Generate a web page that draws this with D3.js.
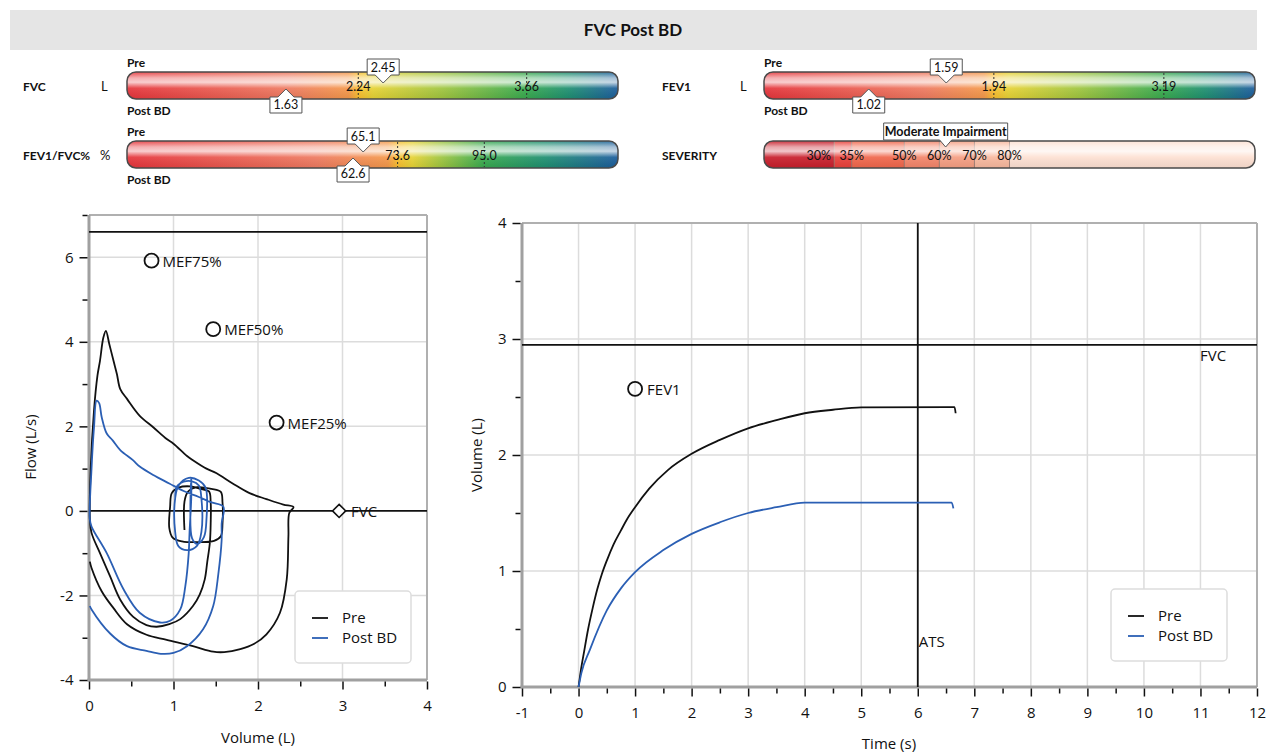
<!DOCTYPE html>
<html>
<head>
<meta charset="utf-8">
<script src="https://cdn.jsdelivr.net/npm/d3@7/dist/d3.min.js"></script>
<style>
body { margin: 0; background: #fff; }
svg text { font-family: "Open Sans", sans-serif; fill: #111; }
.hdr text { font-family: Lato, "DejaVu Sans Condensed", sans-serif; }
</style>
</head>
<body>
<svg id="chart" width="1266" height="752"></svg>
<script>
// --- header gauges ---
var gaugeNames = ["FVC", "FEV1", "FEV1/FVC%"];
var gaugeUnits = ["L", "L", "%"];
var gaugeDomains = [[0.29, 4.43], [0.25, 3.86], [6.8, 128]];
var gaugeLLN = [2.24, 1.94, 73.6];
var gaugeULN = [3.66, 3.19, 95.0];
var gaugePre = [2.45, 1.59, 65.1];
var gaugePost = [1.63, 1.02, 62.6];
var gaugeLabels = [["2.24", "3.66"], ["1.94", "3.19"], ["73.6", "95.0"]];

var severityDomain = [10, 150];
var severityLimits = [30, 35, 50, 60, 70, 80];
var severityColors = ["#c81f2c", "#e9403a", "#f0674c", "#f3856a", "#f59e82", "#f8b89e", "#fde0d2"];
var severityValue = 61.8;
var severityText = "Moderate Impairment";

// --- flow volume ---
var fvXTicks = [0, 1, 2, 3, 4];
var fvXMinor = [0.5, 1.5, 2.5, 3.5];
var fvYTicks = [-4, -2, 0, 2, 4, 6];
var fvYMinor = [-3, -1, 1, 3, 5, 7];
var fvPefLine = 6.6;
var fvMarkers = [
  { name: "MEF75%", vol: 0.74, flow: 5.92 },
  { name: "MEF50%", vol: 1.47, flow: 4.3 },
  { name: "MEF25%", vol: 2.22, flow: 2.09 }
];
var fvFvc = { name: "FVC", vol: 2.96, flow: 0 };

var preFlowVol = [
  [1.13,-0.45],[1.13,0.22],[1.17,0.45],[1.28,0.56],[1.45,0.52],[1.56,0.45],[1.58,0.2],[1.58,-0.3],[1.56,-0.6],
  [1.48,-0.71],[1.3,-0.74],[1.1,-0.72],[0.99,-0.63],[0.95,-0.4],[0.96,0.1],[0.98,0.42],[1.06,0.55],[1.2,0.58],
  [1.32,0.52],[1.42,0.46],[1.44,0.2],[1.44,-0.3],[1.43,-0.76],[1.4,-1.2],[1.37,-1.62],[1.31,-1.98],[1.23,-2.25],
  [1.08,-2.56],[0.95,-2.68],[0.8,-2.74],[0.68,-2.7],[0.52,-2.5],[0.37,-2.1],[0.25,-1.55],[0.13,-1.0],[0.03,-0.52],
  [0.01,-0.2],[0.02,1.0],[0.06,2.4],[0.1,3.2],[0.13,3.55],[0.17,4.1],[0.2,4.26],[0.24,3.95],[0.29,3.55],[0.33,3.24],
  [0.37,2.88],[0.45,2.65],[0.6,2.25],[0.76,1.98],[0.92,1.7],[1.0,1.59],[1.16,1.3],[1.23,1.2],[1.39,1.0],[1.51,0.89],
  [1.7,0.65],[1.9,0.42],[2.1,0.28],[2.3,0.15],[2.42,0.09],[2.37,-0.05],[2.36,-0.6],[2.34,-1.62],[2.26,-2.41],
  [2.1,-2.92],[1.95,-3.15],[1.79,-3.27],[1.6,-3.34],[1.47,-3.33],[1.23,-3.2],[0.92,-3.05],[0.68,-2.93],[0.45,-2.68],
  [0.29,-2.3],[0.15,-1.9],[0.03,-1.35],[0.01,-1.2]
];
var postFlowVol = [
  [1.02,0.3],[1.04,0.58],[1.12,0.69],[1.22,0.7],[1.3,0.6],[1.33,0.3],[1.33,-0.5],[1.28,-0.82],[1.16,-0.93],
  [1.06,-0.84],[1.02,-0.5],[1.02,0.3],[1.06,0.6],[1.18,0.78],[1.3,0.72],[1.38,0.55],[1.39,-0.2],[1.36,-0.62],
  [1.28,-0.78],[1.22,-0.65],[1.2,0.1],[1.21,0.77],[1.21,0.3],[1.19,-0.5],[1.18,-1.0],[1.14,-1.78],[1.08,-2.33],
  [0.96,-2.6],[0.84,-2.64],[0.6,-2.41],[0.41,-1.86],[0.21,-1.0],[0.03,-0.37],[0.01,-0.2],[0.03,1.0],[0.06,2.0],
  [0.09,2.61],[0.12,2.55],[0.15,2.22],[0.21,1.83],[0.28,1.67],[0.37,1.44],[0.52,1.2],[0.6,1.05],[0.76,0.85],
  [0.95,0.65],[1.12,0.47],[1.3,0.33],[1.45,0.2],[1.59,0.1],[1.57,-0.3],[1.57,-0.68],[1.53,-1.5],[1.47,-2.25],
  [1.35,-2.8],[1.16,-3.2],[1.0,-3.36],[0.85,-3.38],[0.68,-3.31],[0.45,-3.2],[0.25,-2.9],[0.03,-2.33],[0.01,-2.25]
];

// --- volume time ---
var vtXTicks = [-1, 0, 1, 2, 3, 4, 5, 6, 7, 8, 9, 10, 11, 12];
var vtXMinor = [-0.5, 0.5, 1.5, 2.5, 3.5, 4.5, 5.5, 6.5, 7.5, 8.5, 9.5, 10.5, 11.5];
var vtYTicks = [0, 1, 2, 3, 4];
var vtYMinor = [0.5, 1.5, 2.5, 3.5];
var vtFvcLine = 2.95;
var vtAtsLine = 6;
var vtFev1 = { name: "FEV1", time: 1.0, vol: 2.57 };

var preVolTime = [
  [0,0],[0.04,0.14],[0.1,0.31],[0.17,0.5],[0.25,0.68],[0.33,0.84],[0.41,0.97],[0.5,1.09],[0.62,1.23],[0.75,1.35],
  [0.85,1.44],[1.0,1.55],[1.25,1.71],[1.58,1.87],[2,2.01],[2.5,2.13],[3,2.23],[3.5,2.3],[4,2.36],[4.5,2.39],[5,2.41],
  [6.65,2.413],[6.67,2.36]
];
var postVolTime = [
  [0,0],[0.05,0.12],[0.2,0.32],[0.5,0.66],[0.75,0.85],[1,0.99],[1.5,1.18],[2,1.32],[2.5,1.42],[3,1.5],
  [3.5,1.55],[4,1.59],[6.6,1.59],[6.63,1.54]
];

var seriesNames = ["Pre", "Post BD"];
var seriesColors = ["#111111", "#2b5fb4"];

var svg = d3.select("#chart");
var defs = svg.append("defs");

// ---------- header ----------
function drawHeader() {
    var hdr = svg.append("g").attr("class", "hdr");
    hdr.append("rect").attr("x", 10).attr("y", 10).attr("width", 1247).attr("height", 40).attr("fill", "#e5e5e5");
    hdr.append("text").attr("x", 633).attr("y", 36).attr("text-anchor", "middle")
        .style("font-size", "17px").style("font-weight", "bold").text("FVC Post BD");

    // gloss gradient used on all bars
    var gloss = defs.append("linearGradient").attr("id", "gloss").attr("x1", 0).attr("y1", 0).attr("x2", 0).attr("y2", 1);
    gloss.append("stop").attr("offset", "0%").attr("stop-color", "#fff").attr("stop-opacity", 0.1);
    gloss.append("stop").attr("offset", "22%").attr("stop-color", "#fff").attr("stop-opacity", 0.6);
    gloss.append("stop").attr("offset", "38%").attr("stop-color", "#fff").attr("stop-opacity", 0.75);
    gloss.append("stop").attr("offset", "60%").attr("stop-color", "#fff").attr("stop-opacity", 0.08);
    gloss.append("stop").attr("offset", "100%").attr("stop-color", "#000").attr("stop-opacity", 0.06);

    var slots = [{ x: 127, y: 72, lx: 23, ux: 101 }, { x: 764, y: 72, lx: 662, ux: 740 }, { x: 127, y: 141, lx: 23, ux: 100 }];
    var barW = 491, barH = 27;

    gaugeNames.forEach(function (name, i) {
        var s = slots[i];
        var xs = d3.scaleLinear().domain(gaugeDomains[i]).range([s.x, s.x + barW]);
        var oL = (xs(gaugeLLN[i]) - s.x) / barW;
        var oU = (xs(gaugeULN[i]) - s.x) / barW;
        var g = defs.append("linearGradient").attr("id", "grad" + i);
        var stops = [
            [0, "#e5343b"], [oL * 0.7, "#ee7a60"], [oL - 0.02, "#f4984a"], [oL, "#f9bd2e"],
            [oL + 0.03, "#e6d234"], [(oL + oU) / 2, "#9fc53e"], [oU, "#37a94e"],
            [oU + (1 - oU) * 0.45, "#1e8f70"], [1, "#1b5c9c"]
        ];
        stops.forEach(function (st) {
            g.append("stop").attr("offset", (st[0] * 100) + "%").attr("stop-color", st[1]);
        });

        hdr.append("text").attr("x", s.lx).attr("y", s.y + barH / 2 + 5)
            .style("font-size", "12px").style("font-weight", "bold").text(name);
        hdr.append("text").attr("x", s.ux).attr("y", s.y + barH / 2 + 5)
            .style("font-size", "13px").text(gaugeUnits[i]);
        hdr.append("text").attr("x", s.x).attr("y", s.y - 5)
            .style("font-size", "12px").style("font-weight", "bold").text("Pre");
        hdr.append("text").attr("x", s.x).attr("y", s.y + barH + 16)
            .style("font-size", "12px").style("font-weight", "bold").text("Post BD");

        hdr.append("rect").attr("x", s.x).attr("y", s.y).attr("width", barW).attr("height", barH)
            .attr("rx", 9).attr("fill", "url(#grad" + i + ")");
        hdr.append("rect").attr("x", s.x).attr("y", s.y).attr("width", barW).attr("height", barH)
            .attr("rx", 9).attr("fill", "url(#gloss)").attr("stroke", "#4a4a4a").attr("stroke-width", 1.5);

        [gaugeLLN[i], gaugeULN[i]].forEach(function (v, k) {
            hdr.append("line").attr("x1", xs(v)).attr("x2", xs(v)).attr("y1", s.y + 1).attr("y2", s.y + barH - 1)
                .attr("stroke", "#333").attr("stroke-dasharray", "2,2");
            hdr.append("text").attr("x", xs(v)).attr("y", s.y + barH / 2 + 5).attr("text-anchor", "middle")
                .style("font-size", "12.5px").text(gaugeLabels[i][k]);
        });

        // pre pointer box (above)
        var px = xs(gaugePre[i]);
        hdr.append("path")
            .attr("d", "M" + (px - 16) + "," + (s.y - 13) + "h32v16h-8l-8,8l-8,-8h-8z")
            .attr("fill", "#fff").attr("stroke", "#555").attr("stroke-width", 1);
        hdr.append("text").attr("x", px).attr("y", s.y - 0.5).attr("text-anchor", "middle")
            .style("font-size", "12.5px").text(gaugePre[i].toFixed(i === 2 ? 1 : 2));
        // post pointer box (below)
        var qx = xs(gaugePost[i]);
        hdr.append("path")
            .attr("d", "M" + (qx - 16) + "," + (s.y + barH + 14) + "h32v-16h-8l-8,-8l-8,8h-8z")
            .attr("fill", "#fff").attr("stroke", "#555").attr("stroke-width", 1);
        hdr.append("text").attr("x", qx).attr("y", s.y + barH + 10).attr("text-anchor", "middle")
            .style("font-size", "12.5px").text(gaugePost[i].toFixed(i === 2 ? 1 : 2));
    });

    // severity bar
    var sx = d3.scaleLinear().domain(severityDomain).range([764, 764 + barW]);
    var sy = 141;
    hdr.append("text").attr("x", 662).attr("y", sy + barH / 2 + 5)
        .style("font-size", "12px").style("font-weight", "bold").text("SEVERITY");
    var cp = defs.append("clipPath").attr("id", "sevclip");
    cp.append("rect").attr("x", 764).attr("y", sy).attr("width", barW).attr("height", barH).attr("rx", 9);
    var bounds = [severityDomain[0]].concat(severityLimits).concat([severityDomain[1]]);
    var segs = hdr.append("g").attr("clip-path", "url(#sevclip)");
    severityColors.forEach(function (c, k) {
        segs.append("rect").attr("x", sx(bounds[k])).attr("y", sy)
            .attr("width", sx(bounds[k + 1]) - sx(bounds[k])).attr("height", barH).attr("fill", c);
    });
    severityLimits.forEach(function (v) {
        segs.append("line").attr("x1", sx(v)).attr("x2", sx(v)).attr("y1", sy).attr("y2", sy + barH)
            .attr("stroke", "#8a6a60").attr("stroke-width", 0.8);
    });
    hdr.append("rect").attr("x", 764).attr("y", sy).attr("width", barW).attr("height", barH)
        .attr("rx", 9).attr("fill", "url(#gloss)").attr("stroke", "#4a4a4a").attr("stroke-width", 1.5);
    severityLimits.forEach(function (v, k) {
        hdr.append("text").attr("x", k === 0 ? sx(v) - 3 : sx(v)).attr("y", sy + barH / 2 + 5)
            .attr("text-anchor", k === 0 ? "end" : "middle")
            .style("font-size", "12.5px").text(v + "%");
    });
    var mx = sx(severityValue);
    hdr.append("path")
        .attr("d", "M" + (mx - 62) + "," + (sy - 18) + "h124v17h-56l-6,7l-6,-7h-56z")
        .attr("fill", "#fff").attr("stroke", "#555").attr("stroke-width", 1);
    hdr.append("text").attr("x", mx).attr("y", sy - 5).attr("text-anchor", "middle")
        .style("font-size", "12.5px").style("font-weight", "bold").text(severityText);
}

// ---------- shared plot frame ----------
function drawFrame(x, y, xTicks, xMinor, yTicks, yMinor, gridX, gridY) {
    var x0 = x.range()[0], x1 = x.range()[1], y0 = y.range()[0], y1 = y.range()[1];
    var g = svg.append("g");
    g.selectAll(".gx").data(gridX).enter().append("line")
        .attr("x1", d => x(d)).attr("x2", d => x(d)).attr("y1", y1).attr("y2", y0)
        .attr("stroke", "#dcdcdc").attr("stroke-width", 1.5);
    g.selectAll(".gy").data(gridY).enter().append("line")
        .attr("x1", x0).attr("x2", x1).attr("y1", d => y(d)).attr("y2", d => y(d))
        .attr("stroke", "#dcdcdc").attr("stroke-width", 1.5);
    g.append("line").attr("x1", x0).attr("x2", x1).attr("y1", y1).attr("y2", y1).attr("stroke", "#b0b0b0").attr("stroke-width", 2);
    g.append("line").attr("x1", x1).attr("x2", x1).attr("y1", y1).attr("y2", y0).attr("stroke", "#b0b0b0").attr("stroke-width", 2);
    g.append("line").attr("x1", x0).attr("x2", x0).attr("y1", y1).attr("y2", y0 + 1.5).attr("stroke", "#a0a0a0").attr("stroke-width", 3);
    g.append("line").attr("x1", x0 - 1.5).attr("x2", x1).attr("y1", y0).attr("y2", y0).attr("stroke", "#a0a0a0").attr("stroke-width", 3);

    function axis(a, vals, size, labels, tx) {
        var ax = svg.append("g").attr("transform", tx)
            .call(a.tickValues(vals).tickSize(size).tickPadding(labels ? 6 : 0).tickFormat(d => labels ? String(d) : ""));
        ax.select(".domain").remove();
        ax.selectAll("line").attr("stroke", "#111").attr("stroke-width", 1.5);
        ax.selectAll("text").style("font-size", "15px").attr("fill", "#111");
        return ax;
    }
    axis(d3.axisBottom(x), xTicks, 8, true, "translate(0," + (y0 + 1.5) + ")").selectAll("text").attr("dy", "1.05em");
    axis(d3.axisBottom(x), xMinor, 5, false, "translate(0," + (y0 + 1.5) + ")");
    axis(d3.axisLeft(y), yTicks, 8, true, "translate(" + (x0 - 1.5) + ",0)");
    axis(d3.axisLeft(y), yMinor, 5, false, "translate(" + (x0 - 1.5) + ",0)");
}

function drawLegend(bx, by) {
    var lg = svg.append("g").attr("transform", "translate(" + bx + "," + by + ")");
    lg.append("rect").attr("width", 116).attr("height", 72).attr("rx", 4)
        .attr("fill", "#fff").attr("stroke", "#dddddd").attr("stroke-width", 1.5);
    seriesNames.forEach(function (n, i) {
        lg.append("line").attr("x1", 17).attr("x2", 33).attr("y1", 27 + i * 20).attr("y2", 27 + i * 20)
            .attr("stroke", seriesColors[i]).attr("stroke-width", 1.8);
        lg.append("text").attr("x", 47).attr("y", 32 + i * 20).style("font-size", "15px").text(n);
    });
}

// ---------- flow volume ----------
function drawFlowVolume() {
    var x = d3.scaleLinear().domain([0, 4]).range([89, 427]);
    var y = d3.scaleLinear().domain([-4, 7]).range([680, 215]);
    drawFrame(x, y, fvXTicks, fvXMinor, fvYTicks, fvYMinor, [1, 2, 3], [-2, 2, 4, 6]);

    svg.append("line").attr("x1", x(0)).attr("x2", x(4)).attr("y1", y(fvPefLine)).attr("y2", y(fvPefLine))
        .attr("stroke", "#111").attr("stroke-width", 1.8);
    svg.append("line").attr("x1", x(0)).attr("x2", x(4)).attr("y1", y(0)).attr("y2", y(0))
        .attr("stroke", "#111").attr("stroke-width", 1.8);

    var line = d3.line().x(d => x(d[0])).y(d => y(d[1])).curve(d3.curveCatmullRom.alpha(0.5));
    [preFlowVol, postFlowVol].forEach(function (data, i) {
        svg.append("path").datum(data).attr("d", line).attr("fill", "none")
            .attr("stroke", seriesColors[i]).attr("stroke-width", 1.8).attr("stroke-linejoin", "round");
    });

    fvMarkers.forEach(function (m) {
        svg.append("circle").attr("cx", x(m.vol)).attr("cy", y(m.flow)).attr("r", 7)
            .attr("fill", "none").attr("stroke", "#111").attr("stroke-width", 1.8);
        svg.append("text").attr("x", x(m.vol) + 11).attr("y", y(m.flow) + 6)
            .style("font-size", "15px").text(m.name);
    });
    var fx = x(fvFvc.vol), fy = y(fvFvc.flow);
    svg.append("path").attr("d", d3.symbol().type(d3.symbolDiamond2).size(110)())
        .attr("transform", "translate(" + fx + "," + fy + ")")
        .attr("fill", "#fff").attr("stroke", "#111").attr("stroke-width", 1.6);
    svg.append("text").attr("x", fx + 12).attr("y", fy + 6).style("font-size", "15px").text(fvFvc.name);

    svg.append("text").attr("x", 258).attr("y", 743).attr("text-anchor", "middle").style("font-size", "15px").text("Volume (L)");
    svg.append("text").attr("transform", "translate(36,447) rotate(-90)").attr("text-anchor", "middle")
        .style("font-size", "15px").text("Flow (L/s)");
    drawLegend(295, 591);
}

// ---------- volume time ----------
function drawVolumeTime() {
    var x = d3.scaleLinear().domain([-1, 12]).range([522, 1257]);
    var y = d3.scaleLinear().domain([0, 4]).range([687, 223]);
    drawFrame(x, y, vtXTicks, vtXMinor, vtYTicks, vtYMinor, d3.range(0, 12), [1, 2, 3]);

    svg.append("line").attr("x1", x(-1)).attr("x2", x(12)).attr("y1", y(vtFvcLine)).attr("y2", y(vtFvcLine))
        .attr("stroke", "#111").attr("stroke-width", 1.8);
    svg.append("line").attr("x1", x(vtAtsLine)).attr("x2", x(vtAtsLine)).attr("y1", y(4)).attr("y2", y(0))
        .attr("stroke", "#111").attr("stroke-width", 1.8);
    svg.append("text").attr("x", 1200).attr("y", 361).style("font-size", "15px").text("FVC");
    svg.append("text").attr("x", x(vtAtsLine) + 1).attr("y", 647).style("font-size", "15px").text("ATS");

    var line = d3.line().x(d => x(d[0])).y(d => y(d[1])).curve(d3.curveMonotoneX);
    [preVolTime, postVolTime].forEach(function (data, i) {
        svg.append("path").datum(data).attr("d", line).attr("fill", "none")
            .attr("stroke", seriesColors[i]).attr("stroke-width", 1.8);
    });

    svg.append("circle").attr("cx", x(vtFev1.time)).attr("cy", y(vtFev1.vol)).attr("r", 7)
        .attr("fill", "none").attr("stroke", "#111").attr("stroke-width", 1.8);
    svg.append("text").attr("x", x(vtFev1.time) + 12).attr("y", y(vtFev1.vol) + 6)
        .style("font-size", "15px").text(vtFev1.name);

    svg.append("text").attr("x", 889).attr("y", 749).attr("text-anchor", "middle").style("font-size", "15px").text("Time (s)");
    svg.append("text").attr("transform", "translate(482,455) rotate(-90)").attr("text-anchor", "middle")
        .style("font-size", "15px").text("Volume (L)");
    drawLegend(1111, 589);
}

drawHeader();
drawFlowVolume();
drawVolumeTime();
</script>
</body>
</html>
